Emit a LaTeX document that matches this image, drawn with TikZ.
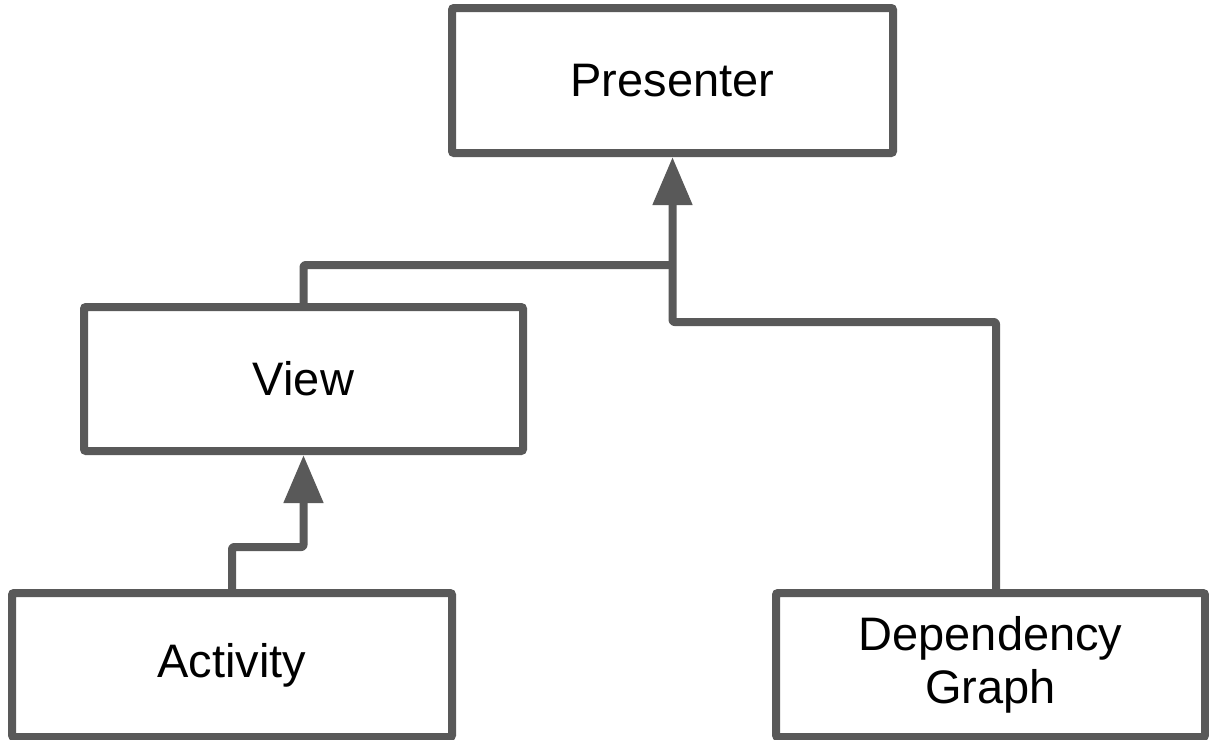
\documentclass[tikz,border=0pt]{standalone}
\usepackage{fontspec}
\setmainfont{Liberation Sans}
\usetikzlibrary{arrows.meta}
\definecolor{edge}{RGB}{89,89,89}
\tikzset{
  box/.style={draw=edge, line width=8pt, rounded corners=2pt, fill=white,
    minimum height=144pt, inner sep=0pt, align=center,
    font=\fontsize{47}{53}\selectfont},
  link/.style={draw=edge, line width=8pt, line join=round, rounded corners=2pt},
  arr/.style={link, -{Triangle[length=48pt, width=38pt]}}
}
\begin{document}
\begin{tikzpicture}[x=1pt, y=-1pt]
  \useasboundingbox (0,0) rectangle (1209,739);
  \begin{scope}
    \clip (0,0) rectangle (1209,739);
    \node[box, minimum width=441pt, minimum height=145pt] (P) at (672.5,80.5) {Presenter};
    \node[box, minimum width=439pt] (V) at (303.5,379) {View};
    \node[box, minimum width=440pt] (A) at (232,665) {Activity};
    \node[box, minimum width=429pt] (D) at (990.5,665) {Dependency\\Graph};

    \coordinate (jv) at (672.5,265);
    \coordinate (jd) at (672.5,322);
    \coordinate (ja) at (303.5,547);

    \draw[arr] ([xshift=5.5pt]D.north) |- (jd) -- (P.south);
    \draw[link] (V.north) |- (jv);
    \draw[arr] (A.north) |- (ja) -- (V.south);
  \end{scope}
\end{tikzpicture}
\end{document}
